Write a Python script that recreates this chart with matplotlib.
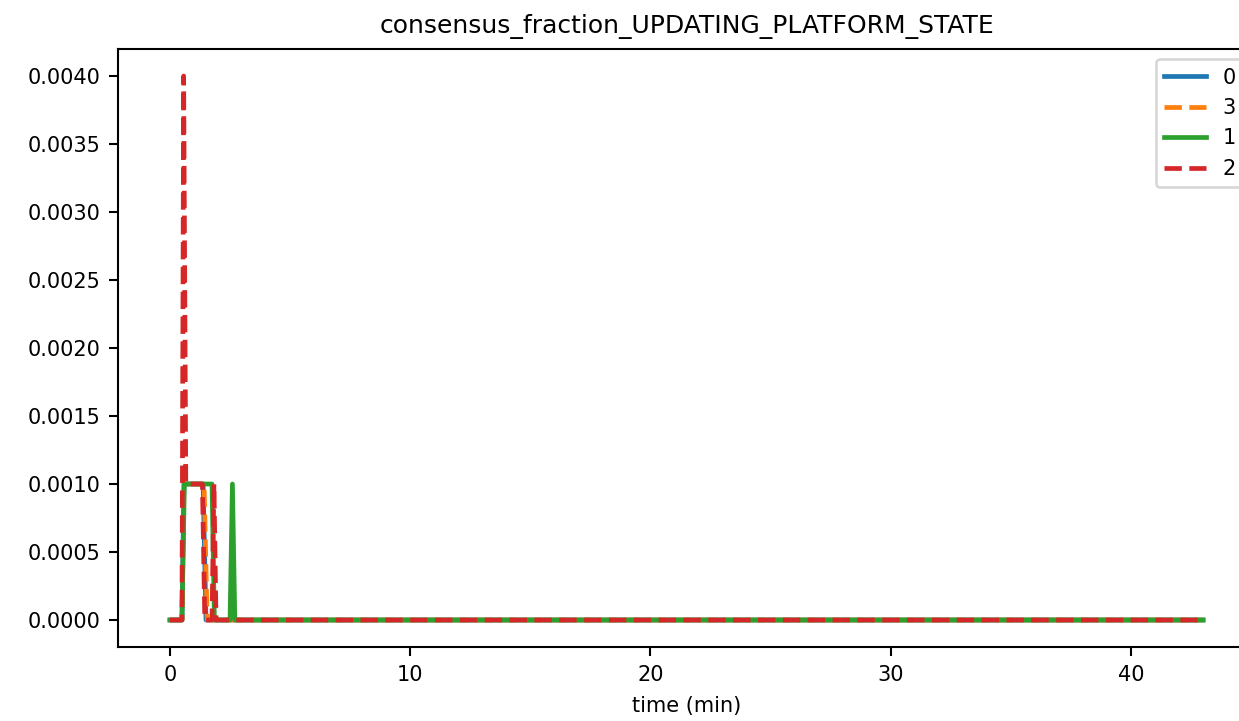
import matplotlib
matplotlib.use("Agg")

import matplotlib.pyplot as plt

# breakpoints (time in minutes, fraction)
series_labels = ["0", "3", "1", "2"]

t_0 = [0.0, 0.50, 0.58, 1.38, 1.50, 43.0]
v_0 = [0.0, 0.0, 0.001, 0.001, 0.0, 0.0]

t_3 = [0.0, 0.50, 0.58, 1.42, 1.55, 43.0]
v_3 = [0.0, 0.0, 0.001, 0.001, 0.0, 0.0]

t_1 = [0.0, 0.50, 0.60, 1.75, 1.85, 2.50, 2.60, 2.70, 43.0]
v_1 = [0.0, 0.0, 0.001, 0.001, 0.0, 0.0, 0.001, 0.0, 0.0]

t_2 = [0.0, 0.50, 0.57, 0.66, 1.35, 1.45, 1.75, 1.83, 1.92, 43.0]
v_2 = [0.0, 0.0, 0.004, 0.001, 0.001, 0.0, 0.0, 0.001, 0.0, 0.0]

times = [t_0, t_3, t_1, t_2]
values = [v_0, v_3, v_1, v_2]
colors = ["#1f77b4", "#ff7f0e", "#2ca02c", "#d62728"]
styles = ["-", "--", "-", "--"]

plt.rcParams["font.size"] = 8

W, H, DPI = 1239, 721, 187.5
fig = plt.figure(figsize=(W / DPI, H / DPI), dpi=DPI)
ax = fig.add_axes([118.3 / W, (H - 647.2) / H, (1254.7 - 118.3) / W, (647.2 - 48.8) / H])

for t, v, c, ls, lab in zip(times, values, colors, styles, series_labels):
    ax.plot(t, v, color=c, linestyle=ls, linewidth=1.8, label=lab)

ax.set_title("consensus_fraction_UPDATING_PLATFORM_STATE")
ax.set_xlabel("time (min)")
ax.legend(loc="upper right")

fig.savefig("out.png", dpi=DPI)
plt.close(fig)
